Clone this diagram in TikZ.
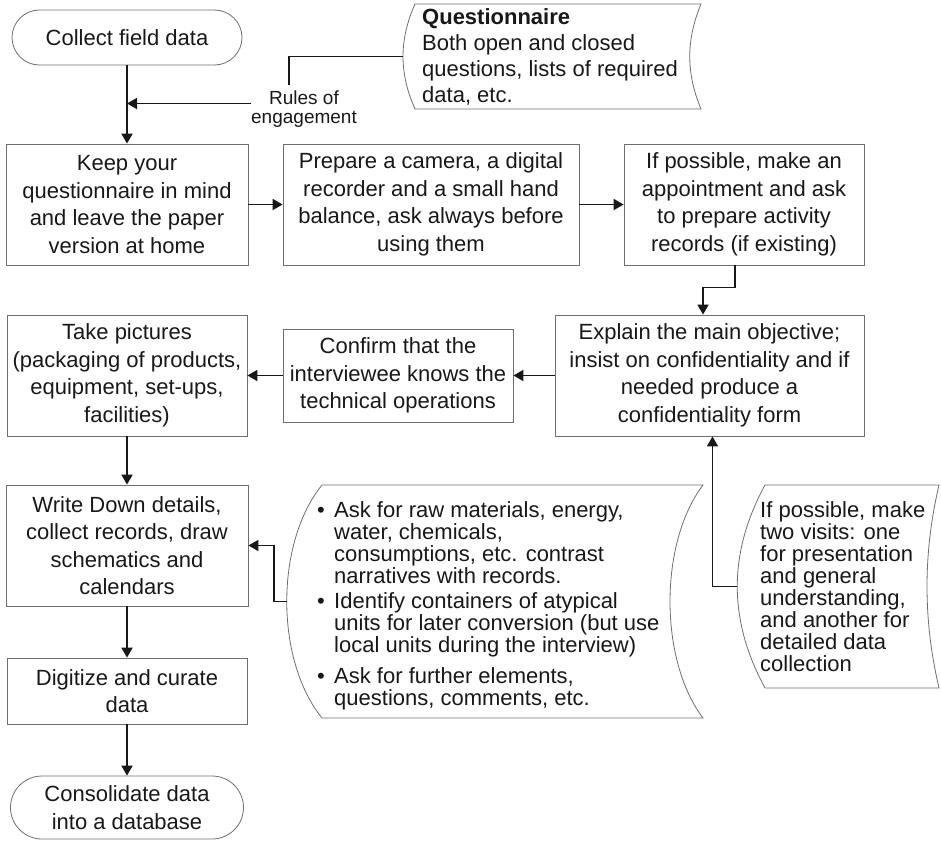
\documentclass[tikz,border=0pt]{standalone}
\usepackage{fontspec}
\setmainfont{Liberation Sans}
\usetikzlibrary{arrows.meta}
\definecolor{ink}{HTML}{1A1718}
\definecolor{edge}{HTML}{6D6E71}
\begin{document}
\begin{tikzpicture}[x=1pt,y=-1pt,
  every node/.style={text=ink, font=\fontsize{22}{27.5}\selectfont},
  box/.style={draw=edge, line width=0.8pt, inner sep=0pt, align=center},
  term/.style={box},
  arr/.style={draw=ink, line width=1.8pt, -{Triangle[length=10pt,width=11pt]}},
  conn/.style={draw=ink, line width=1.4pt},
  shapeline/.style={draw=edge, line width=0.8pt},
  note/.style={anchor=north west, inner sep=0pt, align=left, font=\fontsize{22}{22}\selectfont},
]
\useasboundingbox (0,0) rectangle (941,841);

% main boxes
\node[term, minimum width=230, minimum height=55, rounded corners=27.5] (start) at (127,37.5) {Collect field data};
\node[box, minimum width=242, minimum height=121] (b1) at (127,204.5) {Keep your\\questionnaire in mind\\and leave the paper\\version at home};
\node[box, minimum width=296, minimum height=121] (b2) at (431,204.5) {Prepare a camera, a digital\\recorder and a small hand\\balance, ask always before\\using them};
\node[box, minimum width=240, minimum height=121] (b3) at (744,204.5) {If possible, make an\\appointment and ask\\to prepare activity\\records (if existing)};
\node[box, minimum width=309, minimum height=121] (b4) at (709.5,375.5) {Explain the main objective;\\insist on confidentiality and if\\needed produce a\\confidentiality form};
\node[box, minimum width=230, minimum height=93] (b5) at (398,375.5) {Confirm that the\\interviewee knows the\\technical operations};
\node[box, minimum width=240, minimum height=121] (b6) at (127,375.5) {Take pictures\\(packaging of products,\\equipment, set-ups,\\facilities)};
\node[box, minimum width=242, minimum height=121] (b7) at (127,545.5) {Write Down details,\\collect records, draw\\schematics and\\calendars};
\node[box, minimum width=240, minimum height=66] (b8) at (127,691) {Digitize and curate\\data};
\node[term, minimum width=233, minimum height=63, rounded corners=31.5] (end) at (127,807.5) {Consolidate data\\into a database};

% main connectors
\draw[arr] (start) -- (b1);
\draw[arr] (b1) -- (b2);
\draw[arr] (b2) -- (b3);
\draw[arr] ([xshift=-9pt]b3.south) -- ++(0,22) -| ([xshift=-6.5pt]b4.north);
\draw[arr] (b4) -- (b5);
\draw[arr] (b5) -- (b6);
\draw[arr] (b6) -- (b7);
\draw[arr] (b7) -- (b8);
\draw[arr] (b8) -- (end);

% questionnaire
\draw[shapeline] (415,4) -- (701,4) .. controls (686,40) and (686,73) .. (701,109) -- (415,109) .. controls (399,73) and (399,40) .. cycle;
\node[anchor=north west, inner sep=0pt, align=left, font=\fontsize{22}{26}\selectfont] (qtext) at (422,8) {\textbf{Questionnaire}\\Both open and closed\\questions, lists of required\\data, etc.};
\coordinate (qin) at (403,56.5);
\coordinate (rk) at (289,85);
\node[inner sep=0pt, align=center, font=\fontsize{19}{18.5}\selectfont] (rules) at (304,109) {Rules of\\engagement};
\coordinate (rj) at (127,103.5);
\draw[conn] (qin) -| (rk);
\draw[arr] (rules.west |- rj) -- (rj);

% bullet annotation
\draw[shapeline] (322,485) -- (703,485) .. controls (659,543) and (659,660) .. (703,718) -- (322,718) .. controls (275,660) and (275,543) .. cycle;
\coordinate (s1in) at (287,601.5);
\draw[arr] (s1in) -- ++(-13,0) |- (b7.east);
\node[anchor=base, inner sep=0pt] (d1) at (321,517) {\textbullet};
\node[note] (t1) at (334,501) {Ask for raw materials, energy,\\water, chemicals,\\consumptions, etc. contrast\\narratives with records.};
\node[anchor=base, inner sep=0pt] (d2) at (321,608) {\textbullet};
\node[note] (t2) at (334,592) {Identify containers of atypical\\units for later conversion (but use\\local units during the interview)};
\node[anchor=base, inner sep=0pt] (d3) at (321,683) {\textbullet};
\node[note] (t3) at (334,667) {Ask for further elements,\\questions, comments, etc.};

% two visits annotation
\draw[shapeline] (765,485) -- (939,485) .. controls (923,553) and (923,620) .. (939,688) -- (765,688) .. controls (728,620) and (728,553) .. cycle;
\coordinate (s2in) at (737,586.5);
\draw[arr] (s2in) -| ([xshift=3pt]b4.south);
\node[note] (t4) at (760,501) {If possible, make\\two visits: one\\for presentation\\and general\\understanding,\\and another for\\detailed data\\collection};
\end{tikzpicture}
\end{document}
